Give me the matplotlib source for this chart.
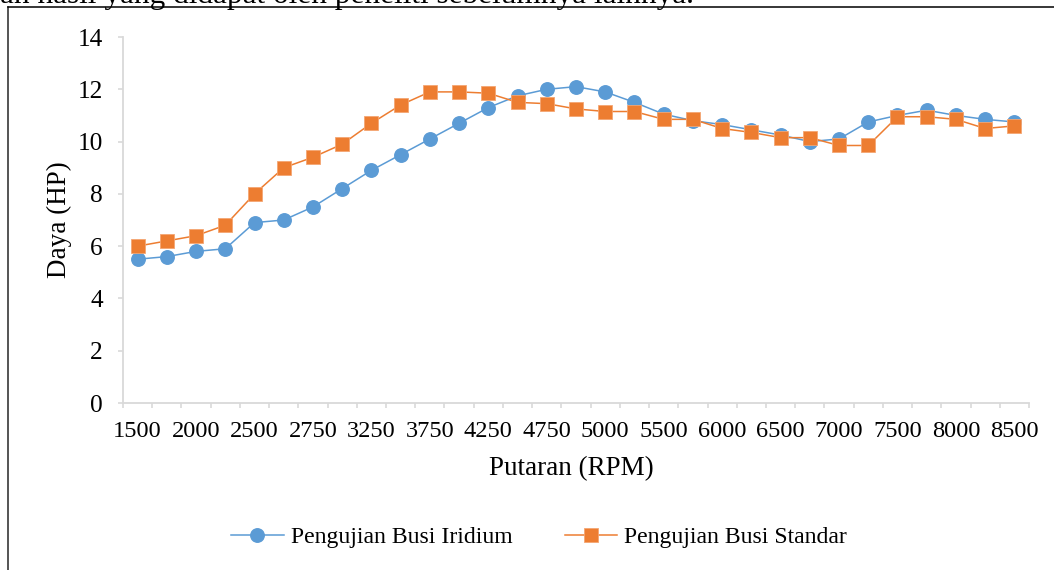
import matplotlib.pyplot as plt
from matplotlib.lines import Line2D

plt.rcParams['font.family'] = ['Liberation Serif', 'DejaVu Serif']

# Power (HP) at each test point, 31 points along the RPM axis
iridium = [5.5, 5.6, 5.8, 5.9, 6.9, 7.0, 7.5, 8.2, 8.9, 9.5, 10.1,
           10.7, 11.3, 11.75, 12.0, 12.1, 11.9, 11.5, 11.05, 10.8, 10.65,
           10.45, 10.25, 10.0, 10.1, 10.75, 11.0, 11.2, 11.0, 10.85, 10.75]
standar = [6.0, 6.2, 6.4, 6.8, 8.0, 9.0, 9.4, 9.9, 10.7, 11.4, 11.9,
           11.9, 11.85, 11.5, 11.45, 11.25, 11.15, 11.15, 10.85, 10.85, 10.5,
           10.35, 10.15, 10.15, 9.85, 9.85, 10.95, 10.95, 10.85, 10.5, 10.6]

# only every other category carries a label in the original
rpm_labels = ["1500", "2000", "2500", "2750", "3250", "3750", "4250", "4750",
              "5000", "5500", "6000", "6500", "7000", "7500", "8000", "8500"]
y_ticks = [0, 2, 4, 6, 8, 10, 12, 14]

W, H = 1054, 570
fig = plt.figure(figsize=(W / 100, H / 100), dpi=100)
ax = fig.add_axes([123 / W, 1 - 403 / H, (1029 - 123) / W, (403 - 37) / H])

x = list(range(len(iridium)))
ax.plot(x, iridium, color="#5B9BD5", lw=1.1, marker="o", ms=9.7,
        mec="#5B9BD5", label="Pengujian Busi Iridium", clip_on=False)
ax.plot(x, standar, color="#ED7D31", lw=1.1, marker="s", ms=9.5,
        mec="#F4A673", mew=0.6, label="Pengujian Busi Standar", clip_on=False)

ax.set_xlim(-0.5, len(x) - 0.5)
ax.set_ylim(0, 14)
ax.set_yticks(y_ticks)
ax.set_xticks(x[::2])
ax.set_xticklabels(rpm_labels)
ax.set_xticks([i - 0.5 for i in range(len(x) + 1)], minor=True)

for s in ["top", "right"]:
    ax.spines[s].set_visible(False)
for s in ["left", "bottom"]:
    ax.spines[s].set_color("#D9D9D9")
    ax.spines[s].set_linewidth(1.3)

ax.tick_params(axis="x", which="major", length=0, pad=13, labelsize=17.6)
ax.tick_params(axis="x", which="minor", length=3.5, color="#D9D9D9", width=1.2)
ax.tick_params(axis="y", length=3.5, color="#D9D9D9", width=1.2, pad=11,
               labelsize=18.2)

fig.text(571 / W, 1 - 469 / H, "Putaran (RPM)", fontsize=19.5,
         ha="center", va="center")
fig.text(59 / W, 1 - 220 / H, "Daya (HP)", fontsize=19.5, rotation=90,
         ha="center", va="center")

fig.legend(loc="center", bbox_to_anchor=(539 / W, 1 - 537 / H), ncol=2,
           frameon=False, fontsize=17.1, handlelength=2.2,
           handletextpad=0.3, columnspacing=2.2)

# chart frame and the clipped line of body text above it
fig.add_artist(Line2D([8 / W, 8 / W], [0, 1 - 7 / H], color="#262626",
                      lw=1.1, transform=fig.transFigure))
fig.add_artist(Line2D([8 / W, 1], [1 - 7 / H, 1 - 7 / H], color="#000000",
                      lw=1.1, transform=fig.transFigure))
fig.text(0, 1 - 3 / H, "an hasil yang didapat oleh peneliti sebelumnya lainnya.",
         fontsize=22.5, ha="left", va="baseline")

fig.savefig("out.png", dpi=100)
